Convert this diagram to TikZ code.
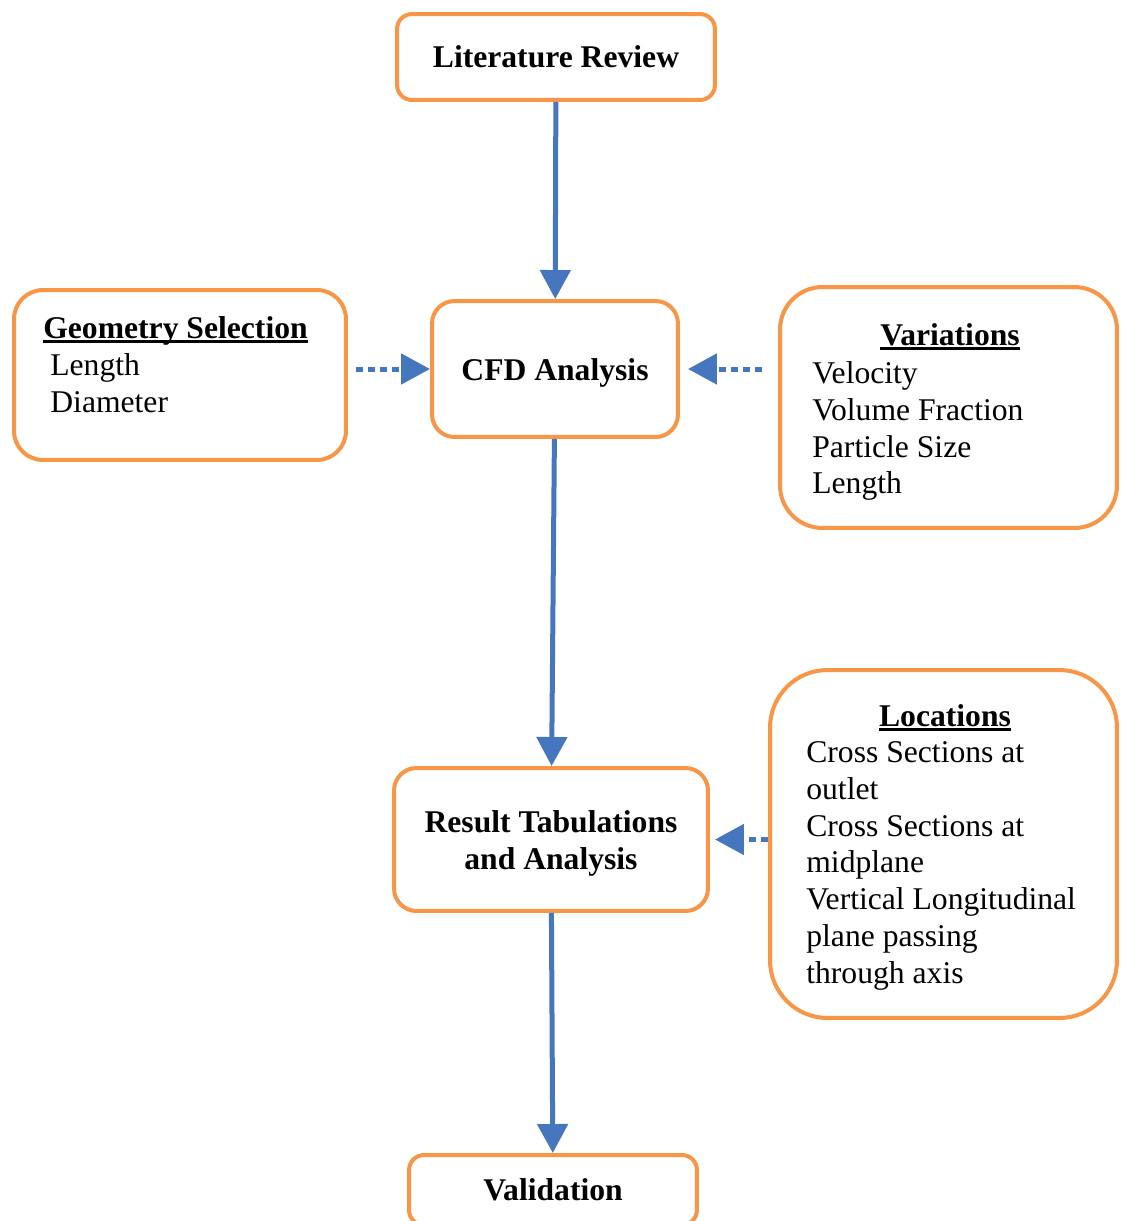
\documentclass[tikz,border=0pt]{standalone}
\usepackage{fontspec}
\setmainfont{Liberation Serif}
\usetikzlibrary{arrows.meta}
\definecolor{boxorange}{RGB}{247,150,70}
\definecolor{arrowblue}{RGB}{70,118,190}
\newcommand{\ultitle}[1]{\setbox0\hbox{\textbf{#1}}\rlap{\rule[-2.6pt]{\wd0}{1.5pt}}\box0}
\tikzset{
  box/.style={draw=boxorange, line width=0.08cm, fill=white, align=center, inner sep=0pt},
  flow/.style={draw=arrowblue, line width=0.1cm, -{Triangle[length=0.58cm, width=0.6cm]}},
  dotflow/.style={flow, dash pattern=on 0.14cm off 0.1cm},
  listtext/.style={align=left, inner sep=0pt, anchor=north west},
  titletext/.style={anchor=base, inner sep=0pt}
}

\begin{document}
\begin{tikzpicture}[x=0.02cm, y=-0.02cm, font=\fontsize{18}{21}\selectfont]
    \useasboundingbox (0,0) rectangle (1121,1221);

    %boxes
    \node[box, rounded corners=0.3cm, minimum width=6.36cm, minimum height=1.72cm] (lit) at (556,57) {\textbf{Literature Review}};
    \node[box, rounded corners=0.45cm, minimum width=4.92cm, minimum height=2.72cm, text height=0.6cm] (cfd) at (555,369) {\textbf{CFD Analysis}};
    \node[box, rounded corners=0.58cm, minimum width=6.64cm, minimum height=3.4cm] (geo) at (180,375) {};
    \node[box, rounded corners=0.85cm, minimum width=6.74cm, minimum height=4.82cm] (var) at (948.5,407.5) {};
    \node[box, rounded corners=0.45cm, minimum width=6.28cm, minimum height=2.86cm, text height=1.33cm] (res) at (551,839.5) {\textbf{Result Tabulations}\\\textbf{and Analysis}};
    \node[box, rounded corners=1.15cm, minimum width=6.94cm, minimum height=6.96cm] (loc) at (943.5,844) {};
    \node[box, rounded corners=0.3cm, minimum width=5.76cm, minimum height=1.4cm] (val) at (553,1190) {\textbf{Validation}};

    %texts in the side boxes
    \node[listtext] (geotext) at (43,316) {\ultitle{Geometry Selection}\\\hspace*{4pt}Length\\\hspace*{4pt}Diameter};
    \node[titletext] (vartitle) at (950,345) {\ultitle{Variations}};
    \node[listtext] (vartext) at (812,361) {Velocity\\Volume Fraction\\Particle Size\\Length};
    \node[titletext] (loctitle) at (945,726) {\ultitle{Locations}};
    \node[listtext] (loctext) at (806,741) {Cross Sections at\\outlet\\Cross Sections at\\midplane\\Vertical Longitudinal\\plane passing\\through axis};

    %edges
    \draw[flow] (lit) -- (cfd);
    \draw[flow] (cfd) -- (res);
    \draw[flow] (res) -- (val);
    \draw[dotflow, shorten <=0.16cm] (geo.east |- cfd.west) -- (cfd.west);
    \draw[dotflow, shorten <=0.32cm, shorten >=0.16cm] (var.west |- cfd.east) -- (cfd.east);
    \draw[dotflow, shorten >=0.1cm] (loc.west |- res.east) -- (res.east);
\end{tikzpicture}
\end{document}
